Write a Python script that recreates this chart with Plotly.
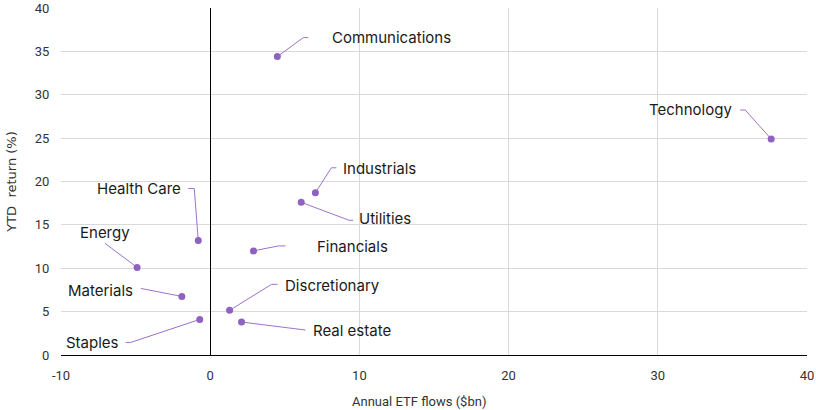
import plotly.graph_objects as go

# sector data
sectors = ["Communications", "Technology", "Industrials", "Utilities", "Health Care",
           "Financials", "Energy", "Materials", "Discretionary", "Real estate", "Staples"]
etf_flows = [4.5, 37.6, 7.05, 6.1, -0.8, 2.9, -4.9, -1.9, 1.3, 2.1, -0.7]
ytd_return = [34.4, 24.9, 18.7, 17.6, 13.2, 12.0, 10.1, 6.75, 5.15, 3.8, 4.1]

x_ticks = [-10, 0, 10, 20, 30, 40]
x_labels = ["-10", "0", "10", "20", "30", "40"]
y_ticks = [0, 5, 10, 15, 20, 25, 30, 35, 40]

# label placement in pixels from the dot: elbow, line end, label pos, anchor
# (dx right, dy down)
label_pos = {
    "Communications": ((26, -19), (31, -19), (53, -19), "left"),
    "Technology": ((-26, -29), (-31, -29), (-37, -29), "right"),
    "Industrials": ((16, -25), (21, -25), (26, -24), "left"),
    "Utilities": ((48, 18), (52, 18), (56, 16), "left"),
    "Health Care": ((-4, -52), (-10, -52), (-15, -52), "right"),
    "Financials": ((25, -5), (32, -5), (62, -4), "left"),
    "Energy": ((-32, -24), (-32, -24), (-32, -35), "center"),
    "Materials": ((-35, -7), (-41, -8), (-47, -6), "right"),
    "Staples": ((-69, 23), (-74, 23), (-79, 23), "right"),
    "Discretionary": ((42, -26), (48, -26), (53, -25), "left"),
    "Real estate": ((59, 8), (64, 8), (69, 8), "left"),
}

W, H = 816, 410
ml, mr, mt, mb = 61, 9, 8, 55
px_x = (x_ticks[-1] - x_ticks[0]) / (W - ml - mr)
px_y = (y_ticks[-1] - y_ticks[0]) / (H - mt - mb)

purple = "#8e62c0"
line_col = "#9d74cc"

fig = go.Figure()

for name, x, y in zip(sectors, etf_flows, ytd_return):
    elbow, end, lab, anchor = label_pos[name]
    fig.add_trace(go.Scatter(
        x=[x, x + elbow[0] * px_x, x + end[0] * px_x],
        y=[y, y - elbow[1] * px_y, y - end[1] * px_y],
        mode="lines", line=dict(color=line_col, width=1),
        hoverinfo="skip", showlegend=False))
    fig.add_annotation(x=x, y=y, text=name, showarrow=False,
                       xanchor=anchor, yanchor="middle",
                       xshift=lab[0], yshift=-lab[1],
                       font=dict(family="Inter", size=15, color="#1a1a1a"))

fig.add_trace(go.Scatter(
    x=etf_flows, y=ytd_return, mode="markers",
    marker=dict(color=purple, size=7),
    text=sectors, showlegend=False))

# x title sits a little left of the plot centre in the original
fig.add_annotation(xref="paper", yref="paper", x=0.48, y=-0.135,
                   xanchor="center", yanchor="middle", showarrow=False,
                   text="Annual ETF flows ($bn)",
                   font=dict(family="Roboto", size=13, color="#333"))

fig.update_layout(
    width=W, height=H,
    margin=dict(l=ml, r=mr, t=mt, b=mb),
    plot_bgcolor="white", paper_bgcolor="white",
    font=dict(family="Roboto", size=13, color="#333"),
    xaxis=dict(range=[x_ticks[0], x_ticks[-1]], tickvals=x_ticks, ticktext=x_labels,
               showgrid=True, gridcolor="#d9d9d9", gridwidth=1,
               zeroline=True, zerolinecolor="black", zerolinewidth=1,
               automargin=False,
               ticks="outside", ticklen=8, tickcolor="white",
               tickfont=dict(size=13)),
    yaxis=dict(range=[y_ticks[0], y_ticks[-1]], tickvals=y_ticks,
               showgrid=True, gridcolor="#d9d9d9", gridwidth=1,
               zeroline=True, zerolinecolor="black", zerolinewidth=1,
               automargin=False,
               title=dict(text="YTD  return (%)", standoff=15,
                          font=dict(family="DejaVu Sans", size=13)),
               ticks="outside", ticklen=8, tickcolor="white",
               tickfont=dict(size=13)),
)

fig.write_html("out.html", config={"displayModeBar": False},
               post_script="document.body.style.margin='0';")
